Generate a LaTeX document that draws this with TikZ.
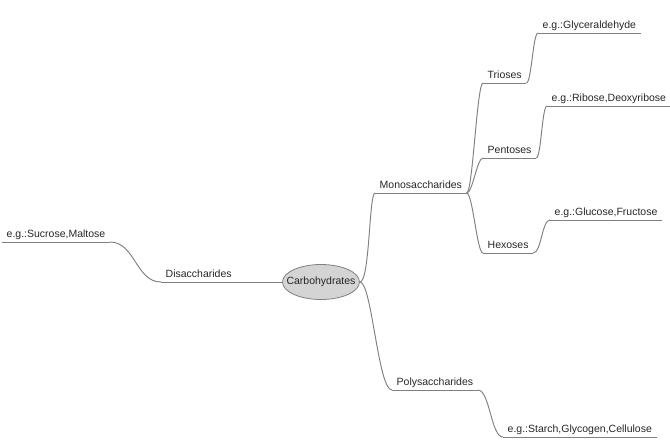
\documentclass[tikz,border=0pt]{standalone}
\usepackage{fontspec}
\setmainfont{Liberation Sans}
\usetikzlibrary{positioning,shapes.geometric}
\definecolor{linegray}{RGB}{128,128,128}
\definecolor{hubgray}{RGB}{212,212,212}

\begin{document}
\begin{tikzpicture}[x=1pt, y=-1pt, font=\fontsize{10.5}{12}\selectfont, text=black!85,
    topic/.style={anchor=south west, inner xsep=4.5pt, inner ysep=2pt, text height=7.5pt, text depth=2.5pt},
    hub/.style={ellipse, draw=linegray, fill=hubgray, line width=0.8pt, minimum width=77pt, minimum height=35pt,
                inner xsep=-8pt, inner ysep=0pt, text height=7.5pt, text depth=2.5pt},
    link/.style={draw=linegray, line width=0.95pt}]
    \useasboundingbox (0,0) rectangle (670,444);
    % centre
    \node[hub] (carb) at (321,282) {Carbohydrates};
    % first level
    \node[topic] (mono) at (375,193) {Monosaccharides};
    \node[topic] (poly) at (392,390) {Polysaccharides};
    \node[topic] (disa) at (161,282) {Disaccharides};
    % second level
    \node[topic] (trio) at (483,83) {Trioses};
    \node[topic] (pent) at (483,158) {Pentoses};
    \node[topic] (hexo) at (483,253) {Hexoses};
    % examples
    \node[topic] (glyc) at (538,33) {e.g.:Glyceraldehyde};
    \node[topic] (ribo) at (547,106) {e.g.:Ribose,Deoxyribose};
    \node[topic] (gluc) at (550,220) {e.g.:Glucose,Fructose};
    \node[topic] (star) at (503,437) {e.g.:Starch,Glycogen,Cellulose};
    \node[topic, anchor=south east] (sucr) at (110,242) {e.g.:Sucrose,Maltose};
    % underlines
    \foreach \n in {mono,poly,disa,trio,pent,hexo,glyc,ribo,gluc,star,sucr}
        \draw[link] (\n.south west) -- (\n.south east);
    % branches
    \draw[link] (carb.east) .. controls +(10,0) and +(-6,0) .. (mono.south west);
    \draw[link] (carb.east) .. controls +(12,0) and +(-14,0) .. (poly.south west);
    \draw[link] (carb.west) -- (disa.south east);
    \draw[link] (disa.south west) .. controls +(-25,0) and +(25,0) .. (sucr.south east);
    \draw[link] (mono.south east) .. controls +(6,0) and +(-6,0) .. (trio.south west);
    \draw[link] (mono.south east) .. controls +(6,0) and +(-6,0) .. (pent.south west);
    \draw[link] (mono.south east) .. controls +(6,0) and +(-6,0) .. (hexo.south west);
    \draw[link] (trio.south east) .. controls +(5,0) and +(-5,0) .. (glyc.south west);
    \draw[link] (pent.south east) .. controls +(5,0) and +(-5,0) .. (ribo.south west);
    \draw[link] (hexo.south east) .. controls +(8,0) and +(-8,0) .. (gluc.south west);
    \draw[link] (poly.south east) .. controls +(12,0) and +(-12,0) .. (star.south west);
\end{tikzpicture}
\end{document}
